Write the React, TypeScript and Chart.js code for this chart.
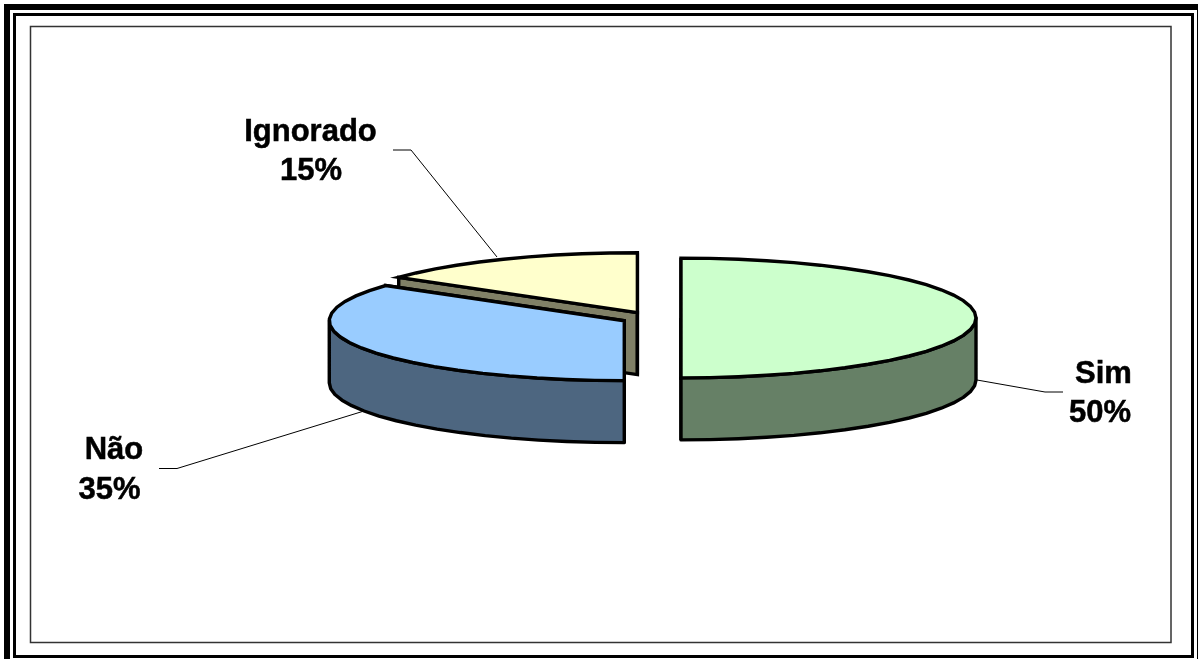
import React, { useEffect, useRef } from "react";
import { Chart, registerables } from "chart.js";

Chart.register(...registerables);

const categories = ["Sim", "Não", "Ignorado"];
const shares = [50, 35, 15];
const topColors = ["#CCFFCC", "#99CCFF", "#FFFFCC"];
const sideColors = ["#668066", "#4D6680", "#808066"];

// Perspective of the tilted pie
const SQUASH = 0.203;
const DEPTH = 62;
const OUTLINE = 3.4;
const RIM_STEP = 0.1;

// Where each caption and its leader line sit, in category order
const captions = [
  { x: [1103.5, 1100], y: [383, 422], leader: [[977, 380], [1045, 392], [1063, 392]] },
  { x: [114, 109.5], y: [459, 499], leader: [[364, 411], [177, 468.5], [159, 468.5]] },
  { x: [310.5, 311], y: [141, 180], leader: [[497, 257], [411, 150], [393, 150]] },
];

type Pt = [number, number];

// The rim is a faceted polyline rather than a true curve
function rimPoints(cx: number, cy: number, r: number, from: number, to: number): Pt[] {
  const steps = Math.max(2, Math.ceil(Math.abs(to - from) / RIM_STEP));
  const pts: Pt[] = [];
  for (let i = 0; i <= steps; i++) {
    const a = from + ((to - from) * i) / steps;
    pts.push([cx + r * Math.cos(a), cy + r * Math.sin(a) * SQUASH]);
  }
  return pts;
}

function polygon(ctx: CanvasRenderingContext2D, pts: Pt[], fill: string) {
  ctx.beginPath();
  pts.forEach(([x, y], i) => (i ? ctx.lineTo(x, y) : ctx.moveTo(x, y)));
  ctx.closePath();
  ctx.fillStyle = fill;
  ctx.fill();
  ctx.stroke();
}

function drawSlice(ctx: CanvasRenderingContext2D, arc: any, index: number) {
  const { x, y, startAngle, endAngle, outerRadius } = arc.getProps(
    ["x", "y", "startAngle", "endAngle", "outerRadius"],
    true
  );
  const mid = (startAngle + endAngle) / 2;
  const offset = arc.options.offset || 0;
  const cx = x + Math.cos(mid) * offset;
  const cy = y + Math.sin(mid) * offset * SQUASH;
  const down = (p: Pt): Pt => [p[0], p[1] + DEPTH];

  ctx.save();
  ctx.lineWidth = OUTLINE;
  ctx.strokeStyle = "#000";
  ctx.lineJoin = "miter";

  const rim = rimPoints(cx, cy, outerRadius, startAngle, endAngle);
  const side = sideColors[index];

  // Flat walls along both cut edges
  for (const edge of [rim[0], rim[rim.length - 1]]) {
    const apex: Pt = [cx, cy];
    polygon(ctx, [apex, edge, down(edge), down(apex)], side);
  }

  // Curved wall: only the part of the rim facing the viewer
  const front = rimPoints(
    cx,
    cy,
    outerRadius,
    Math.max(startAngle, 0),
    Math.min(endAngle, Math.PI)
  );
  if (Math.min(endAngle, Math.PI) > Math.max(startAngle, 0)) {
    ctx.lineJoin = "round";
    polygon(ctx, [...front, ...front.slice().reverse().map(down)], side);
    ctx.lineJoin = "miter";
  }

  polygon(ctx, [[cx, cy], ...rim], topColors[index]);
  ctx.restore();
}

const piePlugin = {
  id: "tiltedPie",
  beforeDraw(chart: any) {
    const { ctx, width, height } = chart;
    ctx.save();
    ctx.fillStyle = "#fff";
    ctx.fillRect(0, 0, width, height);
    ctx.strokeStyle = "#000";
    ctx.lineWidth = 6;
    ctx.strokeRect(7, 7, 1193, 660);
    ctx.lineWidth = 3;
    ctx.strokeRect(14.5, 14.5, 1178, 642);
    ctx.lineWidth = 1.5;
    ctx.strokeStyle = "#333";
    ctx.strokeRect(30.5, 26.5, 1140.5, 616);
    ctx.restore();
  },
  beforeDatasetsDraw(chart: any) {
    const { ctx } = chart;
    ctx.save();
    ctx.lineWidth = 1;
    ctx.strokeStyle = "#000";
    captions.forEach((c) => {
      ctx.beginPath();
      c.leader.forEach(([x, y], i) => (i ? ctx.lineTo(x, y) : ctx.moveTo(x, y)));
      ctx.stroke();
    });
    ctx.restore();
  },
  beforeDatasetDraw(chart: any, args: any) {
    const arcs = chart.getDatasetMeta(args.index).data;
    // Back slice first so nearer slices overlap it
    [2, 1, 0].forEach((i) => drawSlice(chart.ctx, arcs[i], i));
    return false;
  },
  afterDatasetsDraw(chart: any) {
    const { ctx } = chart;
    ctx.save();
    ctx.fillStyle = "#000";
    ctx.strokeStyle = "#000";
    ctx.lineWidth = 0.5;
    ctx.textAlign = "center";
    ctx.textBaseline = "alphabetic";
    ctx.font = 'bold 31px "Liberation Sans", Arial, sans-serif';
    categories.forEach((name, i) => {
      const c = captions[i];
      const share = `${shares[i]}%`;
      ctx.fillText(name, c.x[0], c.y[0]);
      ctx.strokeText(name, c.x[0], c.y[0]);
      ctx.fillText(share, c.x[1], c.y[1]);
      ctx.strokeText(share, c.x[1], c.y[1]);
    });
    ctx.restore();
  },
};

export default function App() {
  const ref = useRef<HTMLCanvasElement>(null);

  useEffect(() => {
    const chart = new Chart(ref.current!, {
      type: "pie",
      data: {
        labels: categories,
        datasets: [
          {
            data: shares,
            backgroundColor: topColors,
            borderColor: "#000",
            borderWidth: OUTLINE,
            offset: 30,
            radius: 295,
          } as any,
        ],
      },
      options: {
        responsive: false,
        animation: false,
        events: [],
        layout: { padding: { left: 104, bottom: 23 } },
        plugins: { legend: { display: false }, tooltip: { enabled: false } },
      },
      plugins: [piePlugin],
    });
    return () => chart.destroy();
  }, []);

  return (
    <div style={{ position: "absolute", left: 0, top: 0, width: 1198, height: 659, overflow: "hidden" }}>
      <canvas ref={ref} width={1198} height={659} style={{ display: "block" }} />
    </div>
  );
}
